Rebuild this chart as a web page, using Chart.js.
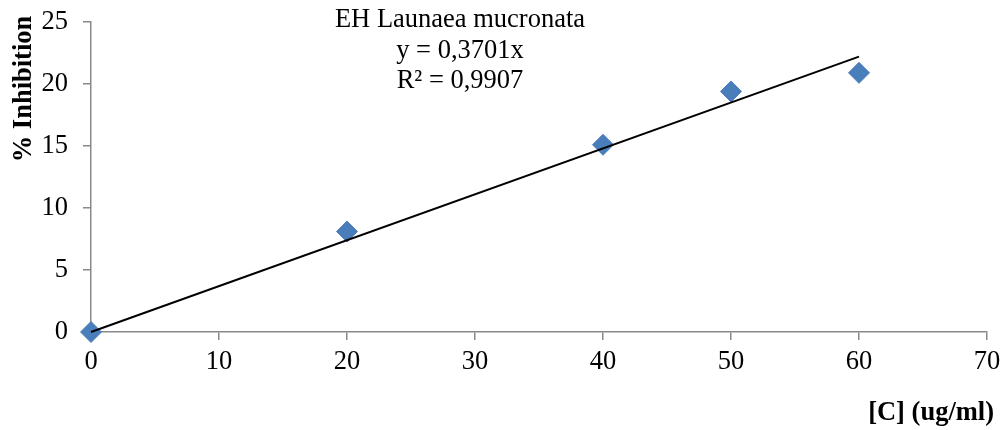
<!DOCTYPE html>
<html>
<head>
<meta charset="utf-8">
<script src="https://cdn.jsdelivr.net/npm/chart.js@4/dist/chart.umd.min.js"></script>
<style>
  html, body { margin: 0; padding: 0; background: #fff; }
  #wrap { width: 1004px; height: 430px; }
</style>
</head>
<body>
<div id="wrap"><canvas id="inhibitionChart" width="1004" height="430"></canvas></div>
<script>
// Concentration (ug/ml) and measured % inhibition
const concentrations = [0, 20, 40, 50, 60];
const inhibition = [0, 8.1, 15.1, 19.4, 20.9];

// Linear fit through the origin, as given in the label
const slope = 0.3701;
const rSquared = '0,9907';
const fitRange = [0, 60];

const xTicks = [0, 10, 20, 30, 40, 50, 60, 70];
const yTicks = [0, 5, 10, 15, 20, 25];

const seriesName = 'EH Launaea mucronata';
const xTitle = '[C] (ug/ml)';
const yTitle = '% Inhibition';

const serif = "'Liberation Serif', 'Times New Roman', serif";
const fontSize = 26.5;
const axisGray = '#898989';

const points = concentrations.map((c, i) => ({ x: c, y: inhibition[i] }));
const fitLine = fitRange.map(x => ({ x: x, y: slope * x }));

// Draws the fit label block and both axis titles
const textPlugin = {
    id: 'chartTexts',
    afterDraw(chart) {
        const ctx = chart.ctx;
        ctx.save();
        ctx.fillStyle = '#000';
        ctx.font = fontSize + 'px ' + serif;
        ctx.textAlign = 'center';
        ctx.textBaseline = 'alphabetic';
        const label = [seriesName, 'y = ' + String(slope).replace('.', ',') + 'x', 'R² = ' + rSquared];
        label.forEach((line, i) => ctx.fillText(line, 460, 27 + i * 30.5));

        ctx.font = 'bold ' + fontSize + 'px ' + serif;
        ctx.textAlign = 'right';
        ctx.fillText(xTitle, 994, 420);

        ctx.translate(31, 89);
        ctx.rotate(-Math.PI / 2);
        ctx.textAlign = 'center';
        ctx.fillText(yTitle, 0, 0);
        ctx.restore();
    }
};

new Chart(document.getElementById('inhibitionChart'), {
    type: 'scatter',
    data: {
        datasets: [
            {
                label: 'Linear fit',
                data: fitLine,
                showLine: true,
                borderColor: '#000',
                borderWidth: 2,
                pointRadius: 0,
                clip: false,
                order: 0
            },
            {
                label: seriesName,
                data: points,
                pointStyle: 'rectRot',
                pointRadius: 10.5,
                pointBackgroundColor: '#4a7ebb',
                pointBorderColor: '#4a7ebb',
                pointBorderWidth: 1,
                clip: false,
                order: 1
            }
        ]
    },
    options: {
        responsive: false,
        animation: false,
        layout: { padding: { top: 22, right: 17, left: 0, bottom: 0 } },
        scales: {
            x: {
                type: 'linear',
                min: 0,
                max: 70,
                afterBuildTicks: (axis) => { axis.ticks = xTicks.map(v => ({ value: v })); },
                afterFit: (axis) => {
                    axis.height = 98;
                    axis.paddingLeft = 0;
                    axis.paddingRight = 0;
                },
                grid: { drawOnChartArea: false, color: axisGray, tickLength: 8, lineWidth: 1.5 },
                border: { color: axisGray, width: 1.5 },
                ticks: { color: '#000', font: { family: serif, size: fontSize }, padding: 6 }
            },
            y: {
                type: 'linear',
                min: 0,
                max: 25,
                afterBuildTicks: (axis) => { axis.ticks = yTicks.map(v => ({ value: v })); },
                afterFit: (axis) => {
                    axis.width = 91;
                    axis.paddingTop = 0;
                    axis.paddingBottom = 0;
                },
                grid: { drawOnChartArea: false, color: axisGray, tickLength: 8, lineWidth: 1.5 },
                border: { color: axisGray, width: 1.5 },
                ticks: { color: '#000', font: { family: serif, size: fontSize }, padding: 15 }
            }
        },
        plugins: {
            legend: { display: false },
            tooltip: { enabled: false }
        }
    },
    plugins: [textPlugin]
});
</script>
</body>
</html>
